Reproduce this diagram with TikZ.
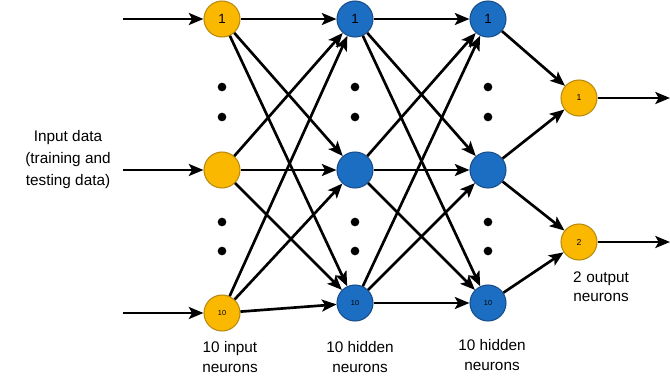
\documentclass[tikz,border=0pt]{standalone}
\usepackage{fontspec}
\setmainfont{Liberation Sans}
\usetikzlibrary{arrows.meta}
\definecolor{inyellow}{HTML}{FBB800}
\definecolor{inborder}{HTML}{B88A10}
\definecolor{hidblue}{HTML}{1C6EC2}
\definecolor{hidborder}{HTML}{1A4E8A}
\begin{document}
\begin{tikzpicture}[x=0.75pt,y=-0.75pt,
  neuronin/.style={circle,draw=inborder,fill=inyellow,line width=0.8pt,minimum size=27pt,inner sep=0pt,font=\fontsize{10}{12}\selectfont},
  neuronhid/.style={circle,draw=hidborder,fill=hidblue,line width=0.8pt,minimum size=27pt,inner sep=0pt,font=\fontsize{10}{12}\selectfont},
  small/.style={font=\fontsize{5.5}{7}\selectfont},
  outnum/.style={font=\fontsize{6.5}{8}\selectfont},
  link/.style={line width=2pt,-{Stealth[length=11pt,width=9pt,inset=2.5pt]}},
  dot/.style={circle,fill=black,minimum size=6.5pt,inner sep=0pt},
  caption/.style={align=center,font=\fontsize{11.5}{14.5}\selectfont}]
\useasboundingbox (0,0) rectangle (670,375);

% input layer
\node[neuronin] (i1) at (222,19) {1};
\node[neuronin] (i2) at (222,170) {};
\node[neuronin,small] (i3) at (222,313) {10};
% first hidden layer
\node[neuronhid] (h1) at (355,19) {1};
\node[neuronhid] (h2) at (355,170) {};
\node[neuronhid,small] (h3) at (355,303) {10};
% second hidden layer
\node[neuronhid] (g1) at (488,19) {1};
\node[neuronhid] (g2) at (488,170) {};
\node[neuronhid,small] (g3) at (488,303) {10};
% output layer
\node[neuronin,outnum] (o1) at (579,98) {1};
\node[neuronin,outnum] (o2) at (579,242) {2};

% ellipsis dots
\foreach \x/\n in {222/a,355/b,488/c}{
  \node[dot] (d\n1) at (\x,87) {};
  \node[dot] (d\n2) at (\x,117) {};
  \node[dot] (d\n3) at (\x,222) {};
  \node[dot] (d\n4) at (\x,251) {};
}

% inputs and outputs
\coordinate (s1) at (123,19);
\coordinate (s2) at (123,170);
\coordinate (s3) at (123,313);
\coordinate (e1) at (670,98);
\coordinate (e2) at (670,242);
\foreach \k in {1,2,3} \draw[link] (s\k) -- (i\k);
\draw[link] (o1) -- (e1);
\draw[link] (o2) -- (e2);

% full connections between layers
\foreach \a in {1,2,3}{
  \foreach \b in {1,2,3}{
    \draw[link] (i\a) -- (h\b);
    \draw[link] (h\a) -- (g\b);
  }
}
\draw[link] (g1) -- (o1);
\draw[link] (g2) -- (o1);
\draw[link] (g2) -- (o2);
\draw[link] (g3) -- (o2);

% captions
\node[caption,font=\fontsize{11.5}{16.5}\selectfont] (cin) at (68,160) {Input data\\(training and\\testing data)};
\node[caption] (c1) at (230,357) {10 input\\neurons};
\node[caption] (c2) at (360,357) {10 hidden\\neurons};
\node[caption] (c3) at (492,355) {10 hidden\\neurons};
\node[caption] (c4) at (601,287) {2\hspace{0.3em}output\\neurons};
\end{tikzpicture}
\end{document}
